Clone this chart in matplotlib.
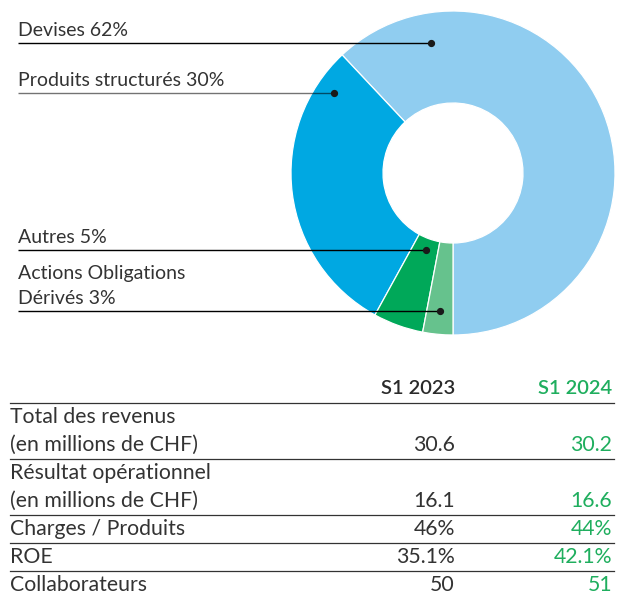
import matplotlib.pyplot as plt
import numpy as np

# donut data
segments = ['Devises 62%', 'Produits structurés 30%', 'Autres 5%', 'Actions Obligations\nDérivés 3%']
shares = [62, 30, 5, 3]
seg_colors = ['#90CDF0', '#00A8E2', '#00A859', '#66C28D']

# table data
row_labels = ['Total des revenus\n(en millions de CHF)', 'Résultat opérationnel\n(en millions de CHF)',
              'Charges / Produits', 'ROE', 'Collaborateurs']
row_lines = [2, 2, 1, 1, 1]
years = ['S1 2023', 'S1 2024']
vals_2023 = ['30.6', '16.1', '46%', '35.1%', '50']
vals_2024 = ['30.2', '16.6', '44%', '42.1%', '51']

W, H = 619, 596
TXT = '#333333'
GREEN = '#1FAE5E'
plt.rcParams['font.family'] = ['Lato', 'DejaVu Sans']

fig = plt.figure(figsize=(W / 100, H / 100), dpi=100)
ax = fig.add_axes([0, 0, 1, 1])


def Y(y):
    return H - y


cx, cy, R, ring = 453, Y(173), 162, 92
wedges, _ = ax.pie(shares, colors=seg_colors, startangle=-90, counterclock=True,
                   radius=R, center=(cx, cy), frame=True,
                   wedgeprops=dict(width=ring, edgecolor='white', linewidth=0.9))

# where the leader dot sits inside each wedge (fraction of the arc, radius)
dot_pos = [(0.85, 132), (0.12, 143), (0.54, 82), (0.5, 139)]
line_alpha = [1, 0.55, 1, 1]
for w, (f, r), lab, a in zip(wedges, dot_pos, segments, line_alpha):
    ang = np.radians(w.theta1 + f * (w.theta2 - w.theta1))
    dx, dy = cx + r * np.cos(ang), cy + r * np.sin(ang)
    ax.plot([18, dx], [dy, dy], color='black', lw=1.0, alpha=a, solid_capstyle='butt')
    ax.plot(dx, dy, 'o', color='#1a1a1a', ms=4.2)
    ax.text(18, dy + 4, lab, ha='left', va='bottom', fontsize=14, color=TXT,
            linespacing=1.62)

# table
FS = 15.3
col_x = [455, 612]
head_y = 389
ax.text(col_x[0], Y(head_y), years[0], ha='right', va='center', fontsize=14.5,
        color='#2a2a2a', fontweight='semibold')
ax.text(col_x[1], Y(head_y), years[1], ha='right', va='center', fontsize=14.5,
        color=GREEN, fontweight='semibold')

row_h = 28
y = 403
ax.plot([10, 614], [Y(y), Y(y)], color='#333333', lw=0.9)
for lab, n, v1, v2 in zip(row_labels, row_lines, vals_2023, vals_2024):
    for k, part in enumerate(lab.split('\n')):
        ax.text(10, Y(y + row_h * (k + 0.5)), part, ha='left', va='center',
                fontsize=FS, color=TXT)
    vy = Y(y + row_h * (n - 0.5))
    ax.text(col_x[0], vy, v1, ha='right', va='center', fontsize=FS, color=TXT)
    ax.text(col_x[1], vy, v2, ha='right', va='center', fontsize=FS, color=GREEN)
    y += row_h * n
    if lab != row_labels[-1]:
        ax.plot([10, 614], [Y(y), Y(y)], color='#333333', lw=0.9)

ax.set_xlim(0, W)
ax.set_ylim(0, H)
ax.axis('off')
fig.savefig('out.png', dpi=100)
